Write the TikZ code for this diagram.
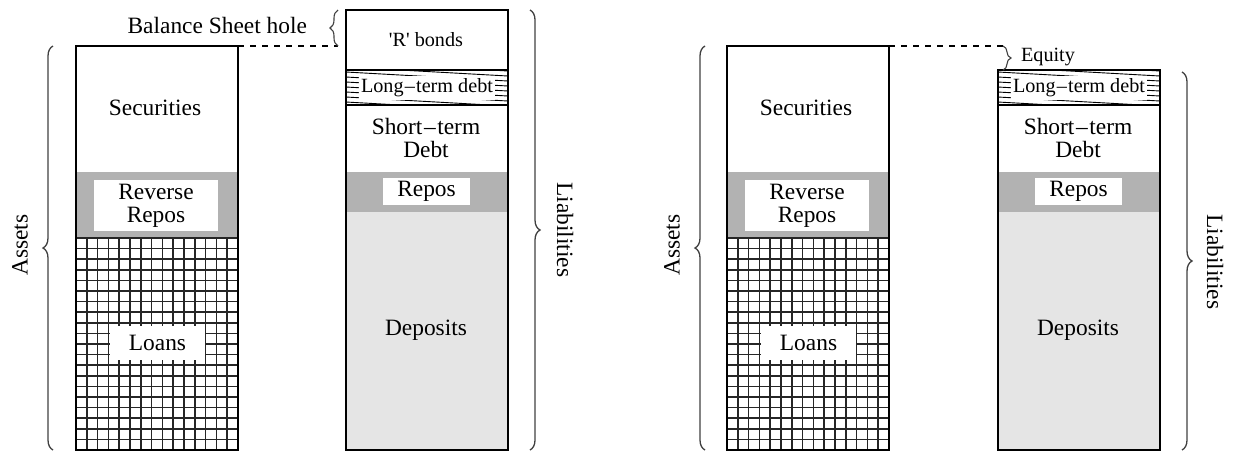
\documentclass[tikz,border=0pt]{standalone}
\usepackage{fontspec}
\setmainfont{Liberation Serif}
\newfontfamily\plainfont[Ligatures=TeXOff]{Liberation Serif}
\usetikzlibrary{decorations.pathreplacing,positioning}

\tikzset{
	big/.style={font=\fontsize{11.7}{13.5}\selectfont, align=center},
	small/.style={font=\fontsize{10.1}{12}\selectfont, align=center},
	whitebox/.style={fill=white, inner sep=0pt},
	brc/.style={decorate, decoration={brace, amplitude=5pt}, draw=black!75, line width=0.65pt},
	sbrc/.style={decorate, decoration={brace, amplitude=4pt}, draw=black!75, line width=0.55pt},
	frame/.style={line width=1pt},
	gridline/.style={line width=0.75pt, black!85},
}

\begin{document}
\begin{tikzpicture}[x=0.5pt, y=-0.5pt]
			%%%%% START %%%%%
			\useasboundingbox (0, 0) rectangle (1235, 452);
			
			%%% left: assets
			\fill[black!30] (76, 172) rectangle (238, 238);
			\foreach \i in {0,...,15} \draw[gridline] (76+\i*10.8, 238) -- (76+\i*10.8, 450);
			\foreach \j in {0,...,20} \draw[gridline] (76, 238+\j*10.6) -- (238, 238+\j*10.6);
			\draw[frame] (76, 46) rectangle (238, 450);
			
			\node[big] (secL) at (155, 108) {Securities};
			\node[big, whitebox, minimum width=62pt, minimum height=25.5pt] (revL) at (156, 205.5) {Reverse\\[-2pt]Repos};
			\node[big, whitebox, minimum width=47.5pt, minimum height=17pt] (loansL) at (157.5, 343) {Loans};
			
			\draw[brc] (53, 450) -- (53, 46);
			\node[big, rotate=90] (assetsL) at (20, 245) {Assets};
			
			%%% left: liabilities
			\fill[black!10] (346, 212) rectangle (508, 450);
			\fill[black!30] (346, 172) rectangle (508, 212);
			\begin{scope}
				\clip (346, 70) rectangle (508, 105);
				\foreach \k in {0,...,10} \draw[line width=0.45pt] (346, 62+\k*5) -- (508, 71+\k*5);
			\end{scope}
			\draw[frame] (346, 70) -- (508, 70);
			\draw[frame] (346, 105) -- (508, 105);
			\draw[frame] (346, 10) rectangle (508, 450);
			
			\node[small] (rbonds) at (426, 40) {\plainfont 'R' bonds};
			\node[small, whitebox, inner xsep=1pt, minimum height=12pt] (ltdL) at (427, 88) {Long\kern0.6pt--\kern0.6pt term debt};
			\node[big] (stdL) at (426, 138) {Short\kern0.8pt--\kern0.8pt term\\[-2pt]Debt};
			\node[big, whitebox, minimum width=43.5pt, minimum height=13.5pt] (repL) at (426.5, 191.5) {Repos};
			\node[big] (depL) at (426, 330) {Deposits};
			
			\draw[brc] (530, 10) -- (530, 450);
			\node[big, rotate=-90] (liabL) at (565, 230) {Liabilities};
			
			%%% balance sheet hole
			\coordinate (holeA) at (238, 46);
			\coordinate (holeB) at (338, 46);
			\draw[dashed, line width=0.6pt] (holeA) -- (holeB);
			\draw[sbrc] (338, 46) -- (338, 10);
			\node[big, anchor=east] (hole) at (314, 25) {Balance Sheet hole};
			
			%%% right: assets
			\fill[black!30] (727, 172) rectangle (889, 238);
			\foreach \i in {0,...,15} \draw[gridline] (727+\i*10.8, 238) -- (727+\i*10.8, 450);
			\foreach \j in {0,...,20} \draw[gridline] (727, 238+\j*10.6) -- (889, 238+\j*10.6);
			\draw[frame] (727, 46) rectangle (889, 450);
			
			\node[big] (secR) at (806, 108) {Securities};
			\node[big, whitebox, minimum width=62pt, minimum height=25.5pt] (revR) at (807, 205.5) {Reverse\\[-2pt]Repos};
			\node[big, whitebox, minimum width=47.5pt, minimum height=17pt] (loansR) at (808.5, 343) {Loans};
			
			\draw[brc] (705, 450) -- (705, 46);
			\node[big, rotate=90] (assetsR) at (672, 245) {Assets};
			
			%%% right: liabilities
			\fill[black!10] (998, 212) rectangle (1160, 450);
			\fill[black!30] (998, 172) rectangle (1160, 212);
			\begin{scope}
				\clip (998, 70) rectangle (1160, 105);
				\foreach \k in {0,...,10} \draw[line width=0.45pt] (998, 62+\k*5) -- (1160, 71+\k*5);
			\end{scope}
			\draw[frame] (998, 70) -- (1160, 70);
			\draw[frame] (998, 105) -- (1160, 105);
			\draw[line width=0.8pt] (998, 70) rectangle (1160, 450);
			
			\node[small, whitebox, inner xsep=1pt, minimum height=12pt] (ltdR) at (1079, 88) {Long\kern0.6pt--\kern0.6pt term debt};
			\node[big] (stdR) at (1078, 138) {Short\kern0.8pt--\kern0.8pt term\\[-2pt]Debt};
			\node[big, whitebox, minimum width=43.5pt, minimum height=13.5pt] (repR) at (1078.5, 191.5) {Repos};
			\node[big] (depR) at (1078, 330) {Deposits};
			
			\draw[brc] (1182, 72) -- (1182, 450);
			\node[big, rotate=-90] (liabR) at (1215, 262) {Liabilities};
			
			%%% equity
			\coordinate (eqA) at (889, 46);
			\coordinate (eqB) at (1003, 46);
			\draw[dashed, line width=0.6pt] (eqA) -- (eqB);
			\draw[sbrc] (1003, 46) -- (1003, 70);
			\node[small, anchor=west] (equity) at (1014, 57) {Equity};
			
			%%%%% END %%%%%
\end{tikzpicture}
\end{document}
